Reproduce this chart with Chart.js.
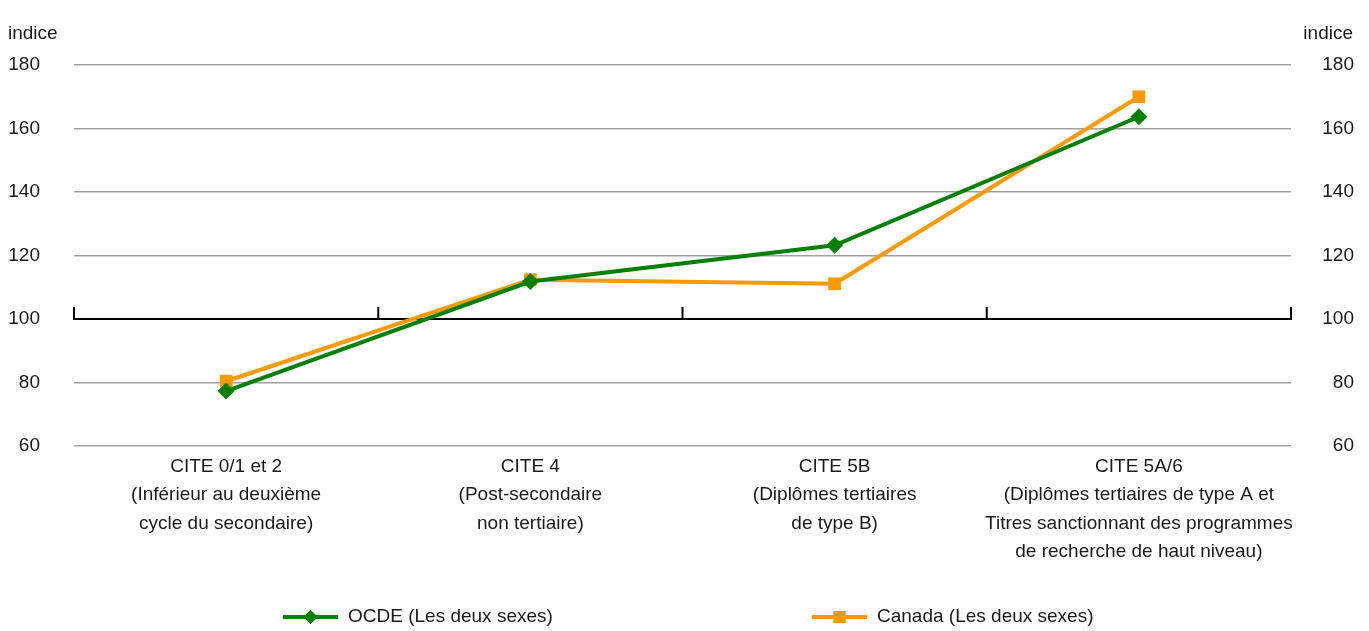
<!DOCTYPE html>
<html>
<head>
<meta charset="utf-8">
<script src="https://cdn.jsdelivr.net/npm/chart.js@4/dist/chart.umd.min.js"></script>
<style>
html,body{margin:0;padding:0;background:#fff;}
#wrap{width:1369px;height:631px;position:relative;}
</style>
</head>
<body>
<div id="wrap"><canvas id="c" width="1369" height="631"></canvas></div>
<script>
const categories = [
  ["CITE 0/1 et 2", "(Inférieur au deuxième", "cycle du secondaire)"],
  ["CITE 4", "(Post-secondaire", "non tertiaire)"],
  ["CITE 5B", "(Diplômes tertiaires", "de type B)"],
  ["CITE 5A/6", "(Diplômes tertiaires de type A et", "Titres sanctionnant des programmes", "de recherche de haut niveau)"]
];
const ocdeValues = [77.3, 111.8, 123.2, 163.7];
const canadaValues = [80.4, 112.4, 111.1, 170.0];
const seriesNames = ["OCDE (Les deux sexes)", "Canada (Les deux sexes)"];
const yMin = 60, yMax = 180, yStep = 20;
const axisTitle = "indice";
const baseValue = 100;

const FONT = "'Liberation Sans', Arial, sans-serif";
const FS = 19;
const GREEN = '#008000';
const ORANGE = '#FF9900';
const TXT = '#1a1a1a';

const decorPlugin = {
  id: 'decor',
  beforeDatasetsDraw(chart) {
    const ctx = chart.ctx, ca = chart.chartArea;
    const y = chart.scales.y.getPixelForValue(baseValue);
    ctx.save();
    ctx.strokeStyle = '#000';
    ctx.lineWidth = 2;
    ctx.beginPath();
    ctx.moveTo(ca.left, y);
    ctx.lineTo(ca.right, y);
    const n = categories.length;
    for (let i = 0; i <= n; i++) {
      const x = ca.left + (ca.right - ca.left) * i / n;
      ctx.moveTo(x, y + 1);
      ctx.lineTo(x, y - 12);
    }
    ctx.stroke();
    ctx.restore();
  },
  afterDraw(chart) {
    const ctx = chart.ctx, ca = chart.chartArea;
    ctx.save();
    ctx.fillStyle = TXT;
    ctx.font = FS + "px " + FONT;
    ctx.textBaseline = 'middle';
    ctx.textAlign = 'left';
    ctx.fillText(axisTitle, 8, ca.top - 31);
    ctx.textAlign = 'right';
    ctx.fillText(axisTitle, chart.width - 16, ca.top - 31);
    // legend
    const ly = 617;
    const items = [
      {x: 283, color: GREEN, style: 'rectRot', r: 7, label: seriesNames[0]},
      {x: 812, color: ORANGE, style: 'rect', r: 8.5, label: seriesNames[1]}
    ];
    items.forEach(it => {
      ctx.strokeStyle = it.color;
      ctx.lineWidth = 4;
      ctx.beginPath();
      ctx.moveTo(it.x, ly);
      ctx.lineTo(it.x + 55, ly);
      ctx.stroke();
      ctx.fillStyle = it.color;
      Chart.helpers.drawPoint(ctx, {pointStyle: it.style, radius: it.r, rotation: 0, borderWidth: 0}, it.x + 27.5, ly);
      ctx.fill();
      ctx.fillStyle = TXT;
      ctx.textAlign = 'left';
      ctx.fillText(it.label, it.x + 65, ly);
    });
    ctx.restore();
  }
};

new Chart(document.getElementById('c'), {
  type: 'line',
  data: {
    labels: categories,
    datasets: [
      {label: seriesNames[0], data: ocdeValues, borderColor: GREEN, backgroundColor: GREEN,
       borderWidth: 4, pointStyle: 'rectRot', pointRadius: 8.5, pointHoverRadius: 8.5, pointBorderWidth: 0, tension: 0, yAxisID: 'y'},
      {label: seriesNames[1], data: canadaValues, borderColor: ORANGE, backgroundColor: ORANGE,
       borderWidth: 4, pointStyle: 'rect', pointRadius: 9, pointHoverRadius: 9, pointBorderWidth: 0, tension: 0, yAxisID: 'y'}
    ]
  },
  options: {
    responsive: false,
    animation: false,
    events: [],
    layout: {padding: {top: 65, left: 0, right: 15, bottom: 0}},
    plugins: {legend: {display: false}, tooltip: {enabled: false}},
    scales: {
      x: {
        offset: true,
        grid: {display: false, drawTicks: false},
        border: {display: false},
        ticks: {color: TXT, font: {family: FONT, size: FS, lineHeight: 1.48}, padding: 7, maxRotation: 0, autoSkip: false},
        afterFit(s) { s.height = 185; }
      },
      y: {
        position: 'left',
        min: yMin, max: yMax,
        ticks: {stepSize: yStep, color: TXT, font: {family: FONT, size: FS}, padding: 34},
        grid: {drawTicks: false, color: ctx => ctx.tick && ctx.tick.value === baseValue ? 'rgba(0,0,0,0)' : '#a0a0a0', lineWidth: 1.5},
        border: {display: false},
        afterFit(s) { s.width = 74; }
      },
      y2: {
        position: 'right',
        min: yMin, max: yMax,
        ticks: {stepSize: yStep, color: TXT, font: {family: FONT, size: FS}, crossAlign: 'far'},
        grid: {display: false, drawTicks: false},
        border: {display: false},
        afterFit(s) { s.width = 63; }
      }
    }
  },
  plugins: [decorPlugin]
});
</script>
</body>
</html>
